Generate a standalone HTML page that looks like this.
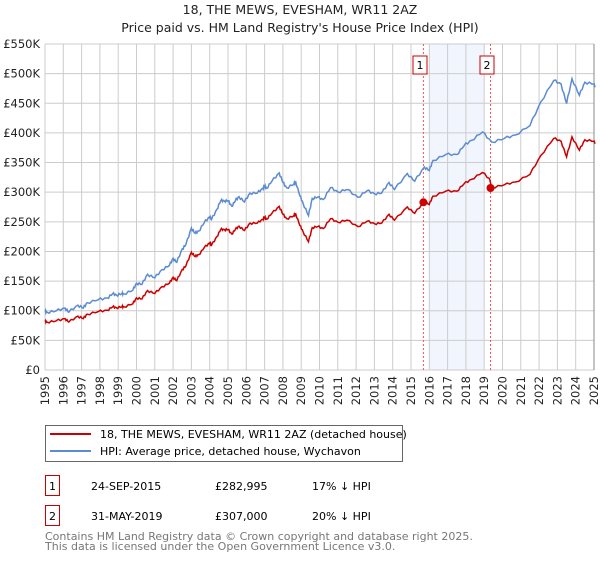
<!DOCTYPE html>
<html><head><meta charset="utf-8"><style>
body{margin:0;background:#fff;font-family:"DejaVu Sans","Liberation Sans",sans-serif;}
svg text{font-family:"DejaVu Sans","Liberation Sans",sans-serif;}
</style></head><body>
<svg id="s" width="600" height="560" xmlns="http://www.w3.org/2000/svg">
<text x="300" y="14" font-size="12.5" text-anchor="middle" fill="#222">18, THE MEWS, EVESHAM, WR11 2AZ</text>
<text x="300" y="32" font-size="12.5" text-anchor="middle" fill="#222">Price paid vs. HM Land Registry's House Price Index (HPI)</text>
<rect x="429.3" y="44" width="54.9" height="326" fill="#eef3fc" opacity="0.8"/>
<g id="grid"></g>
<line x1="423.4" y1="44" x2="423.4" y2="370" stroke="#e55" stroke-dasharray="2,2" stroke-width="1"/>
<line x1="490.5" y1="44" x2="490.5" y2="370" stroke="#e55" stroke-dasharray="2,2" stroke-width="1"/>
<rect x="413" y="56" width="14" height="18" fill="#fff" stroke="#c00"/>
<text x="420" y="69" font-size="11" text-anchor="middle">1</text>
<rect x="480" y="56" width="14" height="18" fill="#fff" stroke="#c00"/>
<text x="487" y="69" font-size="11" text-anchor="middle">2</text>
<path id="blue" fill="none" stroke="#5b8bd0" stroke-width="1.5"/>
<path id="red" fill="none" stroke="#cc0000" stroke-width="1.5"/>
<circle cx="423.4" cy="202.3" r="4" fill="#cc0000"/>
<circle cx="490.5" cy="188" r="4" fill="#cc0000"/>
<rect x="45.5" y="425.5" width="357" height="36" fill="#fff" stroke="#666"/>
<line x1="50" y1="434" x2="91" y2="434" stroke="#cc0000" stroke-width="2"/>
<text x="100" y="438" font-size="11">18, THE MEWS, EVESHAM, WR11 2AZ (detached house)</text>
<line x1="50" y1="451" x2="91" y2="451" stroke="#5b8bd0" stroke-width="2"/>
<text x="100" y="455" font-size="11">HPI: Average price, detached house, Wychavon</text>
<rect x="45.5" y="475.5" width="14" height="20" fill="#fff" stroke="#c00"/>
<text x="52.5" y="490" font-size="11" text-anchor="middle">1</text>
<text x="91" y="490" font-size="11">24-SEP-2015</text>
<text x="215" y="490" font-size="11">£282,995</text>
<text x="312" y="490" font-size="11">17% ↓ HPI</text>
<rect x="45.5" y="505.5" width="14" height="20" fill="#fff" stroke="#c00"/>
<text x="52.5" y="520" font-size="11" text-anchor="middle">2</text>
<text x="91" y="520" font-size="11">31-MAY-2019</text>
<text x="215" y="520" font-size="11">£307,000</text>
<text x="312" y="520" font-size="11">20% ↓ HPI</text>
<text x="45" y="540" font-size="11" fill="#777">Contains HM Land Registry data © Crown copyright and database right 2025.</text>
<text x="45" y="550" font-size="11" fill="#777">This data is licensed under the Open Government Licence v3.0.</text>
</svg>
<script>
var X=function(y){return 45+(y-1995)*18.3;};
var Y=function(v){return 370-v*326/550;};
var g=document.getElementById('grid'),h='';
for(var i=0;i<=11;i++){var y=Y(i*50);h+='<line x1="45" y1="'+y+'" x2="594" y2="'+y+'" stroke="#ccc"/>';
var l=i==0?'£0':'£'+(i*50)+'K';h+='<text x="40" y="'+(y+4)+'" font-size="11.5" text-anchor="end" fill="#222">'+l+'</text>';}
for(var yr=1995;yr<=2025;yr++){var x=X(yr);h+='<line x1="'+x+'" y1="44" x2="'+x+'" y2="370" stroke="#ccc"/>';
h+='<text transform="translate('+(x+4)+',376) rotate(-90)" font-size="11.5" text-anchor="end" fill="#222">'+yr+'</text>';}
h+='<line x1="594" y1="44" x2="594" y2="370" stroke="#888"/>';
g.innerHTML=h;
var pts=[[1995,100],[1995.1,96],[1995.6,101],[1996.1,103],[1996.3,99],[1996.8,108],[1997.1,106],[1997.3,112],[1997.9,120],[1998.4,120],[1998.7,130],[1998.9,125],[1999.2,130],[1999.3,127],[1999.8,136],[2000.0,145],[2000.3,146],[2000.6,160],[2001.0,157],[2001.4,168],[2001.8,178],[2002.0,187],[2002.2,183],[2002.5,203],[2002.7,213],[2003.0,238],[2003.2,232],[2003.4,233],[2003.7,250],[2004.0,257],[2004.1,255],[2004.4,270],[2004.6,287],[2004.8,284],[2005.0,287],[2005.2,275],[2005.4,287],[2005.6,291],[2005.9,285],[2006.2,297],[2006.6,300],[2006.9,305],[2007.0,312],[2007.1,305],[2007.4,320],[2007.8,331],[2008.0,318],[2008.2,306],[2008.6,315],[2008.7,316],[2008.93,295],[2009.1,280],[2009.4,262],[2009.6,288],[2009.9,293],[2010.2,286],[2010.6,309],[2011.0,299],[2011.5,306],[2012.1,290],[2012.6,304],[2013.0,296],[2013.4,300],[2013.8,315],[2014.1,306],[2014.8,330],[2015.2,320],[2015.73,341],[2016.0,338],[2016.2,352],[2016.9,365],[2017.5,362],[2017.9,380],[2018.3,386],[2018.9,403],[2019.41,383],[2020.1,392],[2020.7,395],[2021.5,414],[2022.1,451],[2022.8,490],[2023.2,481],[2023.5,451],[2023.8,490],[2024.2,465],[2024.5,484],[2025.0,484],[2025.05,477]];
var b='',r='';
for(var k=0;k<pts.length-1;k++){var a=pts[k],c=pts[k+1];for(var t=0;t<4;t++){var yy=a[0]+(c[0]-a[0])*t/4,v=a[1]+(c[1]-a[1])*t/4;
var n=(k+t)%2?1.5:-1.5;var vv=v+n;var rr=vv*(yy<2019.41?0.83:0.80);
b+=(b?'L':'M')+X(yy).toFixed(1)+','+Y(vv).toFixed(1);r+=(r?'L':'M')+X(yy).toFixed(1)+','+Y(rr).toFixed(1);}}
var e=pts[pts.length-1];b+='L'+X(e[0])+','+Y(e[1]);r+='L'+X(e[0])+','+Y(e[1]*0.8);
document.getElementById('blue').setAttribute('d',b);document.getElementById('red').setAttribute('d',r);
</script>
</body></html>
